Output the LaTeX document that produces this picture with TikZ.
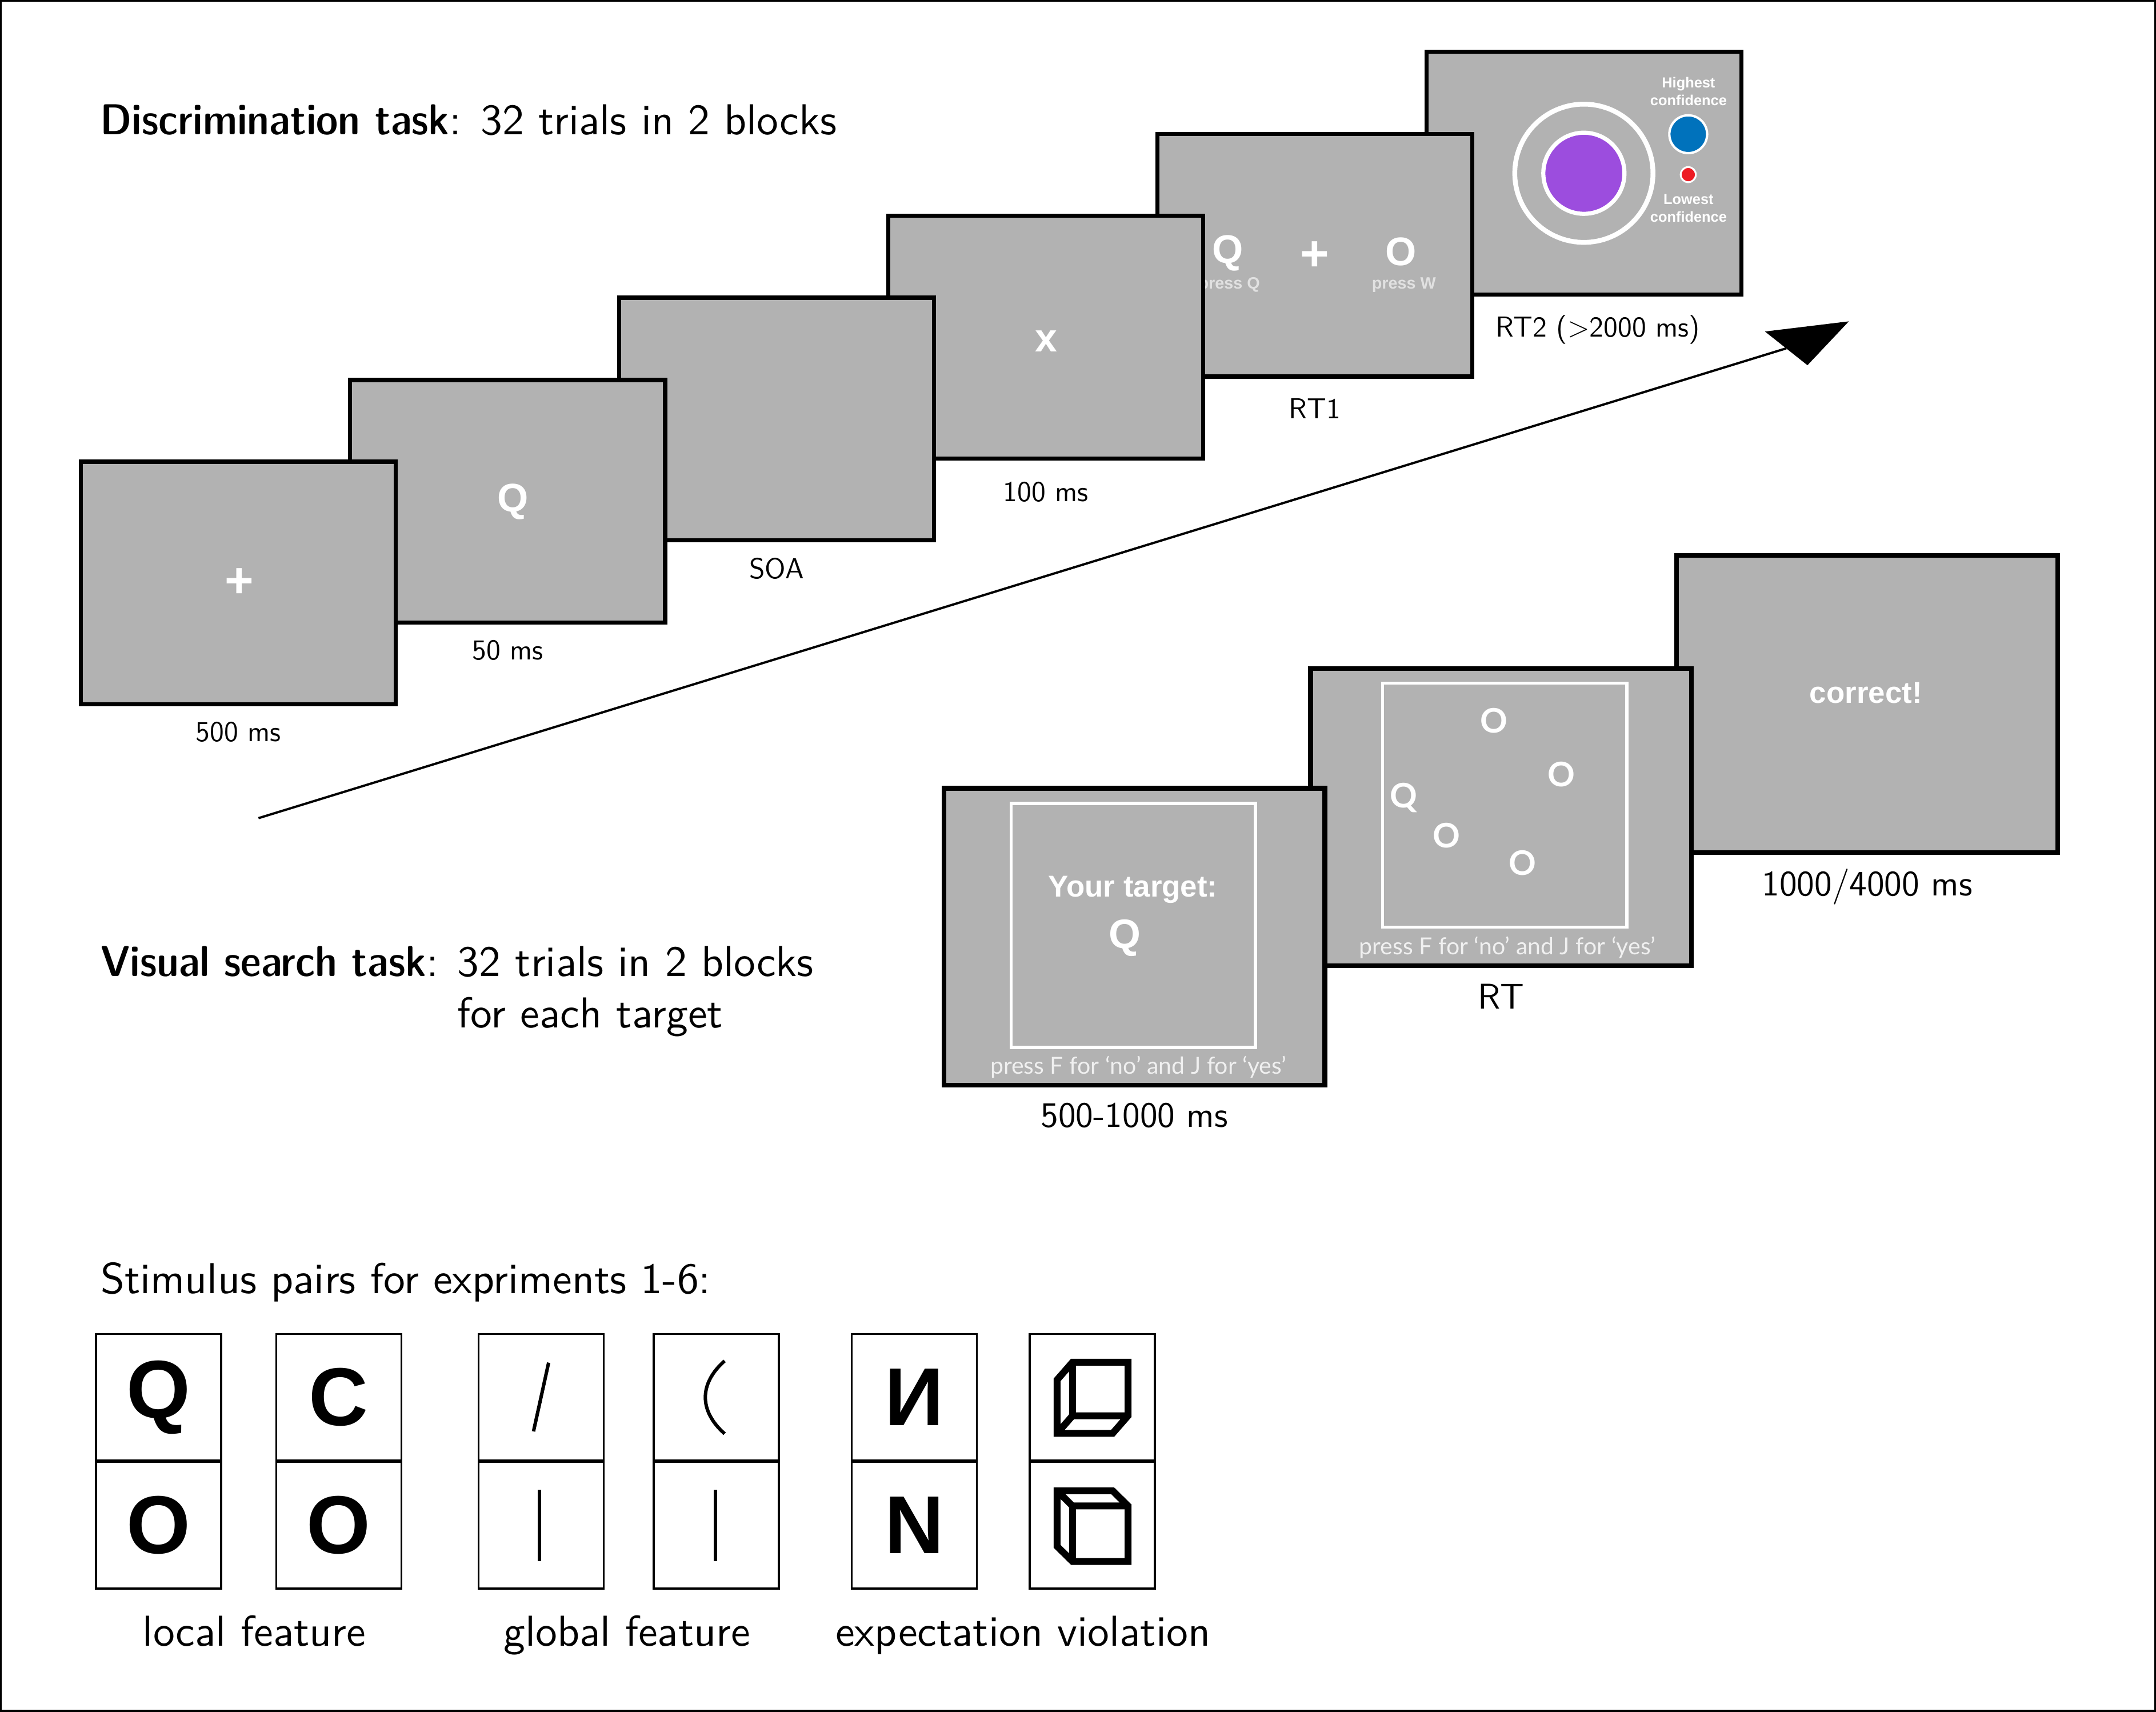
\documentclass[tikz,border=0pt]{standalone}
\usepackage{fontspec}
\newfontfamily\arialfont{Liberation Sans}
\newfontfamily\latofont{Lato}
\newfontfamily\headfont{lmsans10-regular.otf}[BoldFont=lmsansdemicond10-regular.otf,BoldFeatures={FakeStretch=1.063}]
\usetikzlibrary{calc,positioning}

\definecolor{screengray}{RGB}{178,178,178}
\definecolor{confpurple}{RGB}{156,77,222}
\definecolor{confblue}{RGB}{0,114,188}
\definecolor{confred}{RGB}{237,28,36}
\definecolor{keygray}{RGB}{225,225,225}
\definecolor{hintwhite}{RGB}{240,240,240}

\begin{document}
\begin{tikzpicture}[x=0.2mm,y=-0.2mm,
  screen/.style={draw=black,line width=0.6mm,fill=screengray,minimum width=45.8mm,minimum height=35.3mm,inner sep=0},
  searchscreen/.style={screen,line width=0.7mm,minimum width=55.4mm,minimum height=43.2mm},
  stim/.style={text=white,inner sep=0,font=\arialfont\bfseries\fontsize{16.5}{18}\selectfont},
  plusglyph/.style={stim,font=\arialfont\bfseries\fontsize{20.5}{22}\selectfont},
  targettext/.style={stim,font=\arialfont\bfseries\fontsize{12.5}{14}\selectfont},
  targetq/.style={stim,font=\arialfont\bfseries\fontsize{17}{19}\selectfont},
  keyhint/.style={inner sep=0,text=keygray,font=\arialfont\bfseries\fontsize{6.8}{8}\selectfont},
  conftext/.style={inner sep=0,align=center,text=white,font=\arialfont\bfseries\fontsize{6}{7.4}\selectfont},
  searchitem/.style={inner sep=0,text=white,font=\latofont\bfseries\fontsize{14}{16}\selectfont},
  hint/.style={inner sep=0,text=hintwhite,font=\latofont\fontsize{9.7}{11}\selectfont},
  innerbox/.style={draw=white,line width=0.45mm,minimum width=35.5mm,minimum height=35.5mm,inner sep=0},
  lbl/.style={inner sep=0,font=\sffamily\fontsize{11.95}{14}\selectfont},
  vslbl/.style={inner sep=0,font=\sffamily\fontsize{14.8}{17}\selectfont},
  heading/.style={inner sep=0,anchor=base west,font=\headfont\fontsize{17.9}{21.34}\selectfont},
  pairlbl/.style={inner sep=0,anchor=base,font=\headfont\fontsize{17.9}{21.34}\selectfont},
  cell/.style={draw,line width=0.3mm,fill=white,minimum width=18.2mm,minimum height=18.4mm,inner sep=0},
  pairglyph/.style={inner sep=0,font=\arialfont\bfseries\fontsize{34}{36}\selectfont},
  glyphline/.style={line width=0.5mm},
  cube/.style={line width=1mm,line join=miter}]
\useasboundingbox (0,0) rectangle (1568,1245);
\draw[line width=0.28mm] (0.7,0.7) rectangle (1567.3,1244.3);

% discrimination task
\node[heading] (dtitle) at (72.6,98) {\textbf{Discrimination task}: 32 trials in 2 blocks};

% screens, back to front
\node[screen] (conf) at (1151.9,126) {};
\node[circle,draw=white,line width=0.7mm,minimum size=20.1mm,inner sep=0] (ring) at (conf) {};
\node[circle,draw=white,fill=confpurple,line width=0.6mm,minimum size=11.8mm,inner sep=0] (dial) at (conf) {};
\node[circle,draw=white,fill=confblue,line width=0.34mm,minimum size=5.5mm,inner sep=0] (hi) at (1227.8,97.6) {};
\node[circle,draw=white,fill=confred,line width=0.26mm,minimum size=2.2mm,inner sep=0] (lo) at (1227.8,127) {};
\node[conftext] (hitxt) at (1228,66.5) {Highest\\confidence};
\node[conftext] (lotxt) at (1228,151.5) {Lowest\\confidence};
\node[lbl,below=2.6mm of conf,xshift=2mm] (trt2) {RT2 (>2000 ms)};

\node[screen] (resp) at (956.2,185.6) {};
\node[stim] (rq) at (893,184) {Q};
\node[plusglyph] (rplus) at (956,186) {+};
\node[stim] (ro) at (1019,183) {O};
\node[keyhint] (kq) at (894,207) {press Q};
\node[keyhint] (kw) at (1021,207) {press W};
\node[lbl,below=2.8mm of resp] (trt1) {RT1};

\node[screen] (mask) at (760.5,245.2) {};
\node[stim] (mx) at (761,248) {x};
\node[lbl,below=3mm of mask] (tmask) {100 ms};

\node[screen] (blank) at (564.8,304.8) {};
\node[lbl,below=2.2mm of blank] (tsoa) {SOA};

\node[screen] (prime) at (369.2,364.6) {};
\node[stim] (pq) at (373,365) {Q};
\node[lbl,below=2.2mm of prime] (tprime) {50 ms};

\node[screen] (fix) at (173.4,424) {};
\node[plusglyph] (fplus) at (174,424) {+};
\node[lbl,below=2.2mm of fix] (tfix) {500 ms};

% time axis
\coordinate (tstart) at (188,595);
\coordinate (tip) at (1344.6,233.7);
\coordinate (hl) at (1283.6,241.1);
\coordinate (hr) at (1314.5,265.6);
\draw[line width=0.33mm] (tstart) -- ($(hl)!0.5!(hr)$);
\fill (hl) -- (tip) -- (hr) -- cycle;

% visual search task
\node[heading] (vtitle) at (72.9,710) {\textbf{Visual search task}: \begin{tabular}[t]{@{}l@{}}32 trials in 2 blocks\\for each target\end{tabular}};

\node[searchscreen] (fb) at (1357.9,512) {};
\node[targettext] (corr) at (1357,504) {correct!};
\node[vslbl,below=2mm of fb] (tfb) {1000/4000 ms};

\node[searchscreen] (search) at (1091.7,594.2) {};
\node[innerbox] (arr) at (1094.35,585.55) {};
\node[searchitem] (s1) at (1086.5,524) {O};
\node[searchitem] (s2) at (1135.5,563) {O};
\node[searchitem] (s3) at (1021,580) {Q};
\node[searchitem] (s4) at (1052.2,607.6) {O};
\node[searchitem] (s5) at (1107.3,627.5) {O};
\node[hint] (hsearch) at (1096.3,689) {press F for ‘no’ and J for ‘yes’};
\node[vslbl,below=2.3mm of search] (tsearch) {RT};

\node[searchscreen] (cue) at (825,681.2) {};
\node[innerbox] (cuebox) at (824.2,673) {};
\node[targettext] (ttxt) at (824,647) {Your target:};
\node[targetq] (tq) at (818,682) {Q};
\node[hint] (hcue) at (828,776) {press F for ‘no’ and J for ‘yes’};
\node[vslbl,below=2.2mm of cue] (tcue) {500-1000 ms};

% stimulus pairs
\node[heading] (ptitle) at (72.9,940.6) {Stimulus pairs for expriments 1-6:};
\foreach \x [count=\i] in {115.3,246.4,393.6,521.0,665.0,794.3} {
  \node[cell] (top\i) at (\x,1016.2) {};
  \node[cell] (bot\i) at (\x,1109.2) {};
}
\node[pairglyph] (g1) at (top1) {Q};
\node[pairglyph] (g2) at (bot1) {O};
\node[pairglyph] (g3) at (top2) {C};
\node[pairglyph] (g4) at (bot2) {O};
\node[pairglyph] (g5) at (top5) {И};
\node[pairglyph] (g6) at (bot5) {N};
\draw[glyphline] ($(top3)+(5.4,-25.2)$) -- ($(top3)+(-5.6,24.8)$);
\draw[glyphline] ($(bot3)+(-1.4,-25.7)$) -- ($(bot3)+(-1.4,26)$);
\draw[glyphline] ($(top4)+(6,-26.5)$) .. controls ($(top4)+(-12.7,-10)$) and ($(top4)+(-12.7,10)$) .. ($(top4)+(6,26.5)$);
\draw[glyphline] ($(bot4)+(-0.8,-25.7)$) -- ($(bot4)+(-0.8,26)$);
\begin{scope}[shift={(top6)}]
\draw[cube] (-14.3,-25.5) -- (26.1,-25.5) -- (26.1,13.4) -- (14.9,26.2) -- (-25.5,26.2) -- (-25.5,-12.7) -- cycle
  (-14.3,-25.5) -- (-14.3,13.4) -- (26.1,13.4)
  (-14.3,13.4) -- (-25.5,26.2);
\end{scope}
\begin{scope}[shift={(bot6)}]
\draw[cube] (-25.5,-25) -- (14.9,-25) -- (26.1,-14) -- (26.1,26.4) -- (-14.3,26.4) -- (-25.5,15.4) -- cycle
  (-25.5,-25) -- (-14.3,-14) -- (26.1,-14)
  (-14.3,-14) -- (-14.3,26.4);
\end{scope}
\node[pairlbl] (lloc) at (185,1197) {local feature};
\node[pairlbl] (lglob) at (456,1197) {global feature};
\node[pairlbl] (lexp) at (744,1197) {expectation violation};
\end{tikzpicture}
\end{document}
